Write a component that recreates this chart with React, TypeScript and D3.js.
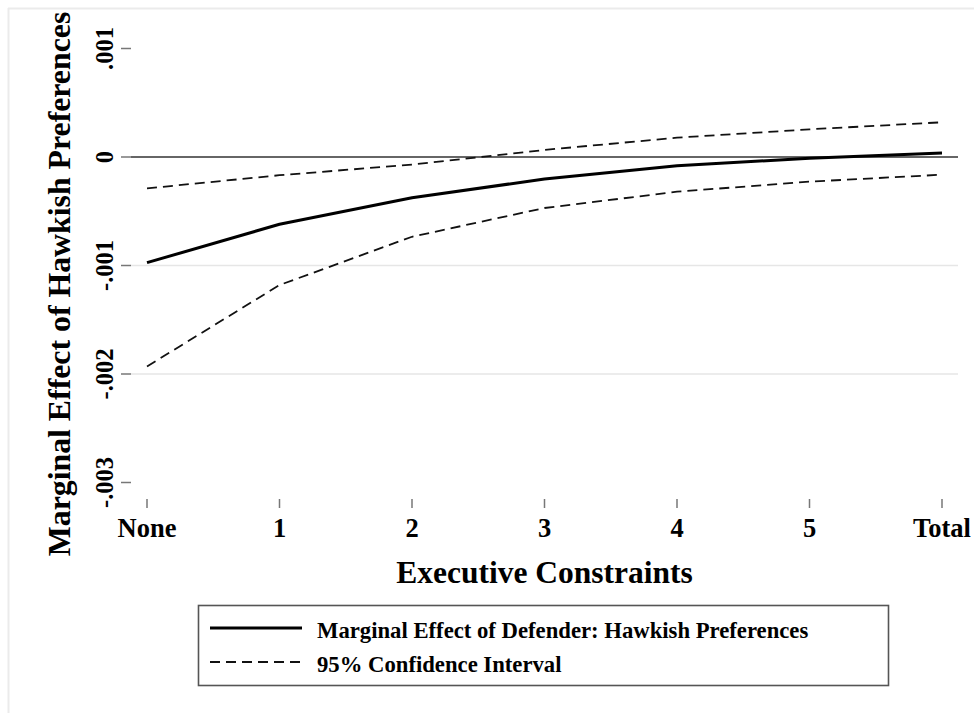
import React from "react";
import * as d3 from "d3";

// Executive constraint levels along the horizontal axis
const categories: string[] = ["None", "1", "2", "3", "4", "5", "Total"];

// Marginal effect of defender hawkish preferences, per constraint level
const effect: number[] = [-0.000974, -0.00062, -0.000375, -0.000203, -0.00008, -0.000012, 0.000037];
// 95% confidence bounds
const upper: number[] = [-0.000289, -0.000168, -0.00007, 0.000065, 0.000178, 0.000255, 0.00032];
const lower: number[] = [-0.00193, -0.00118, -0.000735, -0.00047, -0.00032, -0.000227, -0.000163];

// Vertical axis ticks and their printed labels
const yTicks: number[] = [0.001, 0, -0.001, -0.002, -0.003];
const yTickLabels: string[] = [".001", "0", "-.001", "-.002", "-.003"];
const gridValues: number[] = [-0.001, -0.002];

const legendItems: string[] = [
  "Marginal Effect of Defender: Hawkish Preferences",
  "95% Confidence Interval",
];

const W = 974;
const H = 713;
const FONT = "'Liberation Serif', 'Times New Roman', Times, serif";

export default function App() {
  const x = d3.scalePoint<string>().domain(categories).range([147, 942]);
  const y = d3.scaleLinear().domain([-0.003, 0.001]).range([482.5, 48.5]);
  const plotLeft = 131;
  const plotRight = 958;

  const line = d3
    .line<number>()
    .x((_, i) => x(categories[i]) as number)
    .y((d) => y(d));

  return (
    <div style={{ position: "absolute", left: 0, top: 0, width: W, height: H, background: "#fff" }}>
      <svg width={W} height={H} style={{ display: "block", fontFamily: FONT }}>
        <rect x={0} y={0} width={W} height={H} fill="#fff" />
        {/* faint frame of the graph region */}
        <line x1={8} x2={W} y1={8.5} y2={8.5} stroke="#ebebeb" strokeWidth={2} />
        <line x1={8.5} x2={8.5} y1={8} y2={H} stroke="#ebebeb" strokeWidth={2} />

        {/* grid lines */}
        {gridValues.map((v) => (
          <line key={v} x1={plotLeft} x2={plotRight} y1={y(v)} y2={y(v)} stroke="#e6e6e6" strokeWidth={1.5} />
        ))}
        {/* zero reference line */}
        <line x1={plotLeft} x2={plotRight} y1={y(0)} y2={y(0)} stroke="#333" strokeWidth={1.4} />

        {/* y axis ticks and labels */}
        {yTicks.map((v, i) => (
          <g key={v}>
            <line x1={121} x2={131} y1={y(v)} y2={y(v)} stroke="#777" strokeWidth={1.5} />
            <text
              transform={`translate(113,${y(v)}) rotate(-90)`}
              textAnchor="middle"
              fontSize={24.5}
              fontWeight="bold"
              fill="#000"
            >
              {yTickLabels[i]}
            </text>
          </g>
        ))}

        {/* x axis ticks and labels */}
        {categories.map((c) => (
          <g key={c}>
            <line x1={x(c)} x2={x(c)} y1={499} y2={508} stroke="#777" strokeWidth={1.5} />
            <text x={x(c)} y={537} textAnchor="middle" fontSize={26.5} fontWeight="bold" fill="#000">
              {c}
            </text>
          </g>
        ))}

        {/* axis titles */}
        <text x={544.5} y={583} textAnchor="middle" fontSize={31.5} fontWeight="bold" fill="#000">
          Executive Constraints
        </text>
        <text
          transform="translate(70,284) rotate(-90)"
          textAnchor="middle"
          fontSize={31.8}
          fontWeight="bold"
          fill="#000"
        >
          Marginal Effect of Hawkish Preferences
        </text>

        {/* confidence bounds */}
        <path d={line(upper) ?? ""} fill="none" stroke="#111" strokeWidth={1.8} strokeDasharray="10,6" />
        <path d={line(lower) ?? ""} fill="none" stroke="#111" strokeWidth={1.8} strokeDasharray="10,6" />
        {/* point estimate */}
        <path d={line(effect) ?? ""} fill="none" stroke="#000" strokeWidth={3} strokeLinejoin="round" />

        {/* legend */}
        <rect x={198.5} y={605.5} width={690} height={80} fill="#fff" stroke="#555" strokeWidth={1.6} />
        <line x1={210} x2={302} y1={628} y2={628} stroke="#000" strokeWidth={3} />
        <line x1={210} x2={302} y1={662} y2={662} stroke="#111" strokeWidth={1.8} strokeDasharray="10,6" />
        {legendItems.map((t, i) => (
          <text key={t} x={317} y={638 + i * 34} fontSize={22.7} fontWeight="bold" fill="#000">
            {t}
          </text>
        ))}
      </svg>
    </div>
  );
}
